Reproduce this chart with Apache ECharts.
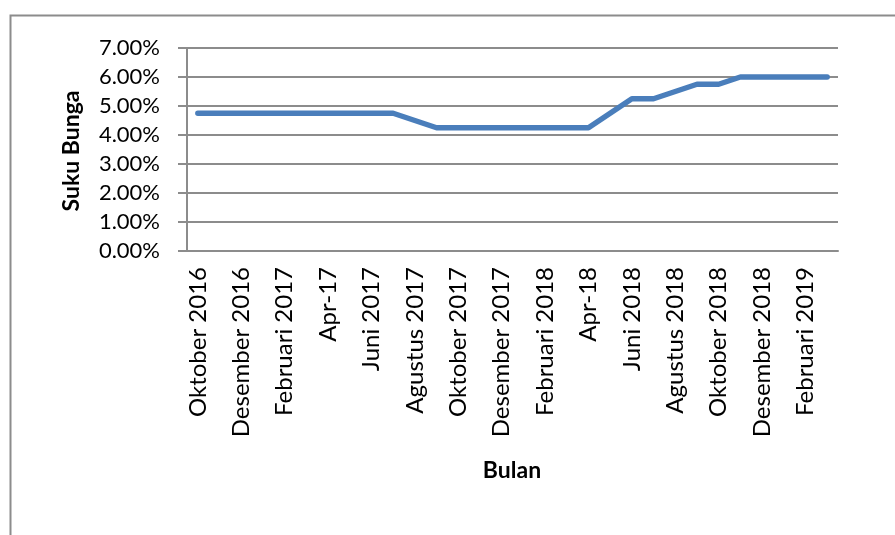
<!DOCTYPE html>
<html>
<head>
<meta charset="utf-8">
<script src="https://cdn.jsdelivr.net/npm/echarts@6/dist/echarts.min.js"></script>
<style>
html,body{margin:0;padding:0;background:#fff;}
#c{width:895px;height:535px;}
</style>
</head>
<body>
<div id="c"></div>
<script>
var categories = [
  'Oktober 2016','November 2016','Desember 2016','Januari 2017','Februari 2017','Maret 2017',
  'Apr-17','Mei 2017','Juni 2017','Juli 2017','Agustus 2017','September 2017',
  'Oktober 2017','November 2017','Desember 2017','Januari 2018','Februari 2018','Maret 2018',
  'Apr-18','Mei 2018','Juni 2018','Juli 2018','Agustus 2018','September 2018',
  'Oktober 2018','November 2018','Desember 2018','Januari 2019','Februari 2019','Maret 2019'
];
var sukuBunga = [
  4.75,4.75,4.75,4.75,4.75,4.75,4.75,4.75,4.75,4.75,
  4.50,4.25,4.25,4.25,4.25,4.25,4.25,4.25,4.25,
  4.75,5.25,5.25,5.50,5.75,5.75,6.00,6.00,6.00,6.00,6.00
];
var yTicks = [0,1,2,3,4,5,6,7];
var xTitle = 'Bulan';
var yTitle = 'Suku Bunga';

var FONT = 'Lato';
var chart = echarts.init(document.getElementById('c'), null, {renderer:'canvas'});
chart.setOption({
  animation:false,
  backgroundColor:'#ffffff',
  grid:{left:187, right:57, top:48, bottom:284, containLabel:false},
  xAxis:{
    type:'category',
    data:categories,
    boundaryGap:true,
    axisLine:{show:true, lineStyle:{color:'#8c8c8c', width:2}},
    axisTick:{show:false},
    axisLabel:{
      interval:1, rotate:90, margin:16,
      fontFamily:FONT, fontSize:24, color:'#000'
    },
    splitLine:{show:false}
  },
  yAxis:{
    type:'value',
    min:yTicks[0], max:yTicks[yTicks.length-1], interval:1,
    axisLine:{show:true, lineStyle:{color:'#8c8c8c', width:2}},
    axisTick:{show:true, length:9, lineStyle:{color:'#8c8c8c', width:2}},
    axisLabel:{
      margin:27, fontFamily:FONT, fontSize:22, color:'#000',
      formatter:function(v){return v.toFixed(2)+'%';}
    },
    splitLine:{show:true, lineStyle:{color:'#8c8c8c', width:2}}
  },
  series:[{
    type:'line',
    data:sukuBunga,
    symbol:'none',
    lineStyle:{color:'#4a7ebb', width:5.5, cap:'round', join:'round'},
    itemStyle:{color:'#4a7ebb'}
  }],
  graphic:[
    {type:'rect', left:8, top:13, shape:{width:900, height:540},
     style:{fill:'none', stroke:'#8c8c8c', lineWidth:2}, silent:true, z:-1},
    {type:'text', x:512, y:471,
     style:{text:xTitle, font:'bold 23px '+FONT, fill:'#000', textAlign:'center', textVerticalAlign:'middle'}},
    {type:'text', x:72, y:151, rotation:Math.PI/2,
     style:{text:yTitle, font:'bold 23px '+FONT, fill:'#000', textAlign:'center', textVerticalAlign:'middle'}}
  ]
});
</script>
</body>
</html>
